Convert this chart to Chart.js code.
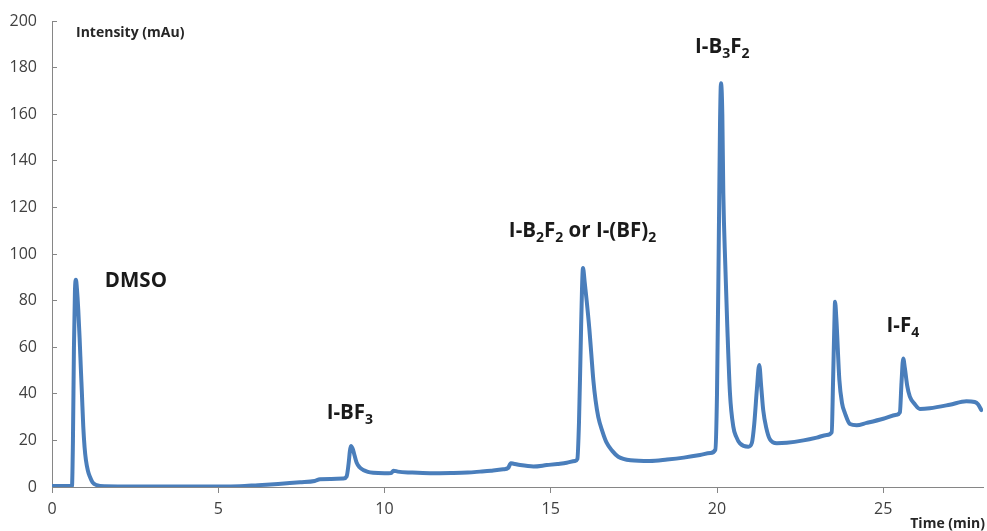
<!DOCTYPE html>
<html><head><meta charset="utf-8">
<script src="https://cdn.jsdelivr.net/npm/chart.js@4"></script>
<style>html,body{margin:0;padding:0;background:#fff}</style>
</head><body>
<canvas id="c" width="987" height="531"></canvas>
<script>
// ---- data ----
const timeMin = [0,0.5,0.6,0.63,0.66,0.69,0.72,0.75,0.79,0.83,0.87,0.9,0.94,0.98,1.02,1.08,1.14,1.22,1.34,1.6,2.5,4,5,5.65,6.2,6.8,7.46,7.9,8.06,8.4,8.76,8.86,8.92,8.96,8.99,9.04,9.1,9.16,9.25,9.36,9.5,9.66,10.0,10.2,10.27,10.4,10.8,11.37,12.0,12.5,12.87,13.2,13.57,13.72,13.8,13.88,14.08,14.48,14.88,15.2,15.48,15.73,15.8,15.85,15.9,15.94,15.97,16.02,16.08,16.16,16.22,16.28,16.35,16.43,16.55,16.68,16.85,17.03,17.4,17.98,18.5,19.0,19.49,19.8,19.95,20.0,20.05,20.09,20.12,20.16,20.19,20.25,20.31,20.39,20.49,20.58,20.69,20.94,21.05,21.12,21.2,21.27,21.33,21.39,21.48,21.59,21.8,22.1,22.6,23.0,23.3,23.45,23.49,23.53,23.55,23.59,23.68,23.76,23.85,24.0,24.2,24.5,25.0,25.4,25.5,25.55,25.6,25.65,25.72,25.8,25.95,26.1,26.4,27.0,27.5,27.75,27.85,27.95];
const intensity = [0.4,0.4,0.4,20,60,84,89,85,76,64,50,40,26,17,11.6,7,4.4,2,0.8,0.3,0.2,0.2,0.2,0.3,0.8,1.3,2.0,2.6,3.3,3.4,3.6,4.5,10,15.5,17.6,16.5,13.5,10.5,8.5,7.3,6.5,6.1,5.9,6.0,7,6.6,6.2,5.9,6.0,6.2,6.6,7.0,7.6,8.2,10.2,10,9.4,8.8,9.4,9.9,10.4,11.2,12,28,60,85,94,88,80,68,57,46,37,30,24,19,15.5,13,11.5,11.2,11.8,12.6,13.7,14.6,16,40,100,155,173.3,160,126,95,68.8,40.2,25.9,21.5,18.7,17.3,19,27,42,52.4,43,33,25.5,20.5,18.8,19,20,21.2,22.3,23.5,45,70,79.5,72,46,36,31.6,27,26.5,27.5,29.3,31,32,45,55.2,51,43.5,38.8,35.5,33.5,33.8,35.3,36.8,36.5,35.5,33];
const xTickValues = [0,5,10,15,20,25];
const yTickValues = [0,20,40,60,80,100,120,140,160,180,200];
const peakNames = ['DMSO','I-BF_3','I-B_2F_2 or I-(BF)_2','I-B_3F_2','I-F_4'];
const peakNameTime = [1.59,8.26,13.74,19.34,25.1];
const peakNameLevel = [88.3,31.5,109.7,188.6,68.9];
const yTitle = 'Intensity (mAu)';
const xTitle = 'Time (min)';

const FONT = "'Open Sans', 'DejaVu Sans', sans-serif";

function drawRich(ctx, text, x, y, size) {
  // "_d" marks a subscript character
  const parts = [];
  for (let i = 0; i < text.length; i++) {
    if (text[i] === '_' && i + 1 < text.length) { parts.push({t: text[i+1], sub: true}); i++; }
    else parts.push({t: text[i], sub: false});
  }
  let cx = x;
  ctx.textBaseline = 'middle';
  ctx.textAlign = 'left';
  for (const p of parts) {
    const fs = p.sub ? Math.round(size * 0.68) : size;
    ctx.font = `bold ${fs}px ${FONT}`;
    ctx.fillText(p.t, cx, p.sub ? y + size * 0.3 : y);
    cx += ctx.measureText(p.t).width;
  }
}

const textPlugin = {
  id: 'texts',
  afterDatasetsDraw(chart) {
    const {ctx, scales: {x, y}, chartArea: a} = chart;
    ctx.save();
    ctx.fillStyle = '#1a1a1a';
    peakNames.forEach((n, i) => {
      drawRich(ctx, n, x.getPixelForValue(peakNameTime[i]), y.getPixelForValue(peakNameLevel[i]), 20.5);
    });
    ctx.fillStyle = '#262626';
    ctx.font = `bold 14px ${FONT}`;
    ctx.textBaseline = 'middle';
    ctx.textAlign = 'left';
    ctx.fillText(yTitle, a.left + 24, a.top + 12);
    ctx.textAlign = 'right';
    ctx.fillText(xTitle, chart.width - 2, a.bottom + 37);
    ctx.restore();
  }
};

new Chart(document.getElementById('c'), {
  type: 'line',
  data: {
    datasets: [{
      data: timeMin.map((t, i) => ({x: t, y: intensity[i]})),
      borderColor: '#4a7ebb',
      borderWidth: 4,
      borderJoinStyle: 'round',
      borderCapStyle: 'round',
      pointRadius: 0,
      fill: false,
      cubicInterpolationMode: 'monotone'
    }]
  },
  options: {
    responsive: false,
    animation: false,
    devicePixelRatio: 1,
    layout: {padding: {top: 21, right: 4, left: 0, bottom: 0}},
    plugins: {legend: {display: false}, tooltip: {enabled: false}},
    scales: {
      x: {
        type: 'linear', min: 0, max: 28,
        afterBuildTicks: s => { s.ticks = xTickValues.map(v => ({value: v})); },
        afterFit: s => { s.height = 44; },
        grid: {drawOnChartArea: false, drawTicks: true, tickLength: 6, color: '#868686'},
        border: {color: '#868686', width: 1},
        ticks: {color: '#404040', font: {family: FONT, size: 16}, padding: 7, maxRotation: 0}
      },
      y: {
        min: 0, max: 200,
        afterBuildTicks: s => { s.ticks = yTickValues.map(v => ({value: v})); },
        afterFit: s => { s.width = 52; s.paddingTop = 10; s.paddingBottom = 10; },
        grid: {drawOnChartArea: false, drawTicks: true, tickLength: -5, color: '#868686'},
        border: {color: '#868686', width: 1},
        ticks: {color: '#404040', font: {family: FONT, size: 16}, padding: 20}
      }
    }
  },
  plugins: [textPlugin]
});
</script>
</body></html>
